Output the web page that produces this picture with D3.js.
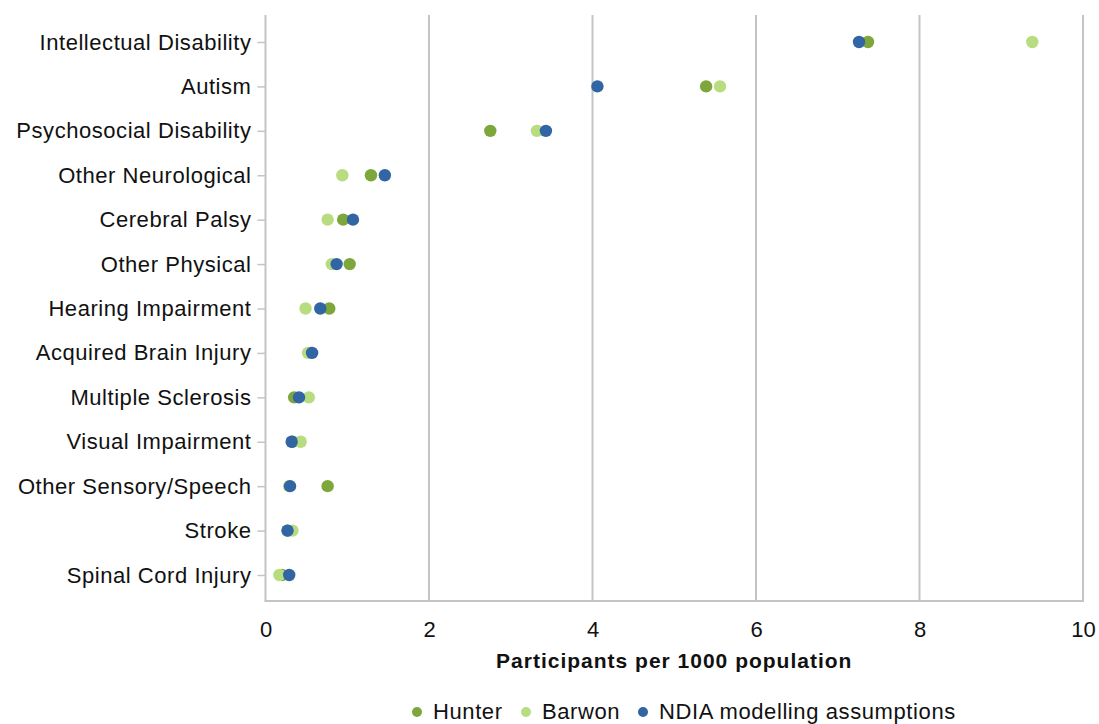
<!DOCTYPE html>
<html><head><meta charset="utf-8">
<script src="https://cdn.jsdelivr.net/npm/d3@7"></script>
<style>body{margin:0;background:#fff}svg{display:block;font-family:"Liberation Sans",Arial,sans-serif}</style>
</head><body>
<svg id="c" width="1099" height="724"></svg>
<script>
const categories = ["Intellectual Disability","Autism","Psychosocial Disability","Other Neurological","Cerebral Palsy","Other Physical","Hearing Impairment","Acquired Brain Injury","Multiple Sclerosis","Visual Impairment","Other Sensory/Speech","Stroke","Spinal Cord Injury"];
const hunter = [7.37,5.39,2.75,1.29,0.95,1.03,0.78,0.55,0.35,0.33,0.76,0.27,0.20];
const barwon = [9.38,5.56,3.32,0.94,0.76,0.81,0.49,0.52,0.53,0.43,0.29,0.33,0.17];
const ndia   = [7.26,4.06,3.43,1.46,1.07,0.87,0.67,0.57,0.41,0.32,0.30,0.27,0.29];
const xTicks = [0,2,4,6,8,10];
const seriesNames = ["Hunter","Barwon","NDIA modelling assumptions"];
const colors = ["#7da73b","#b8dc80","#3265a3"];
const seriesData = [hunter, barwon, ndia];

const svg = d3.select("#c");
const L = 265.5, R = 1083, T = 15, B = 601;
const x = d3.scaleLinear().domain([0,10]).range([L,R]);
const y = d3.scalePoint().domain(categories).range([42,575]);

// gridlines
svg.append("g").selectAll("line").data(xTicks.filter(d=>d>0)).join("line")
  .attr("x1",d=>x(d)).attr("x2",d=>x(d)).attr("y1",T).attr("y2",B)
  .attr("stroke","#c4c4c4").attr("stroke-width",2);
// axes lines
svg.append("line").attr("x1",L).attr("x2",L).attr("y1",T).attr("y2",B).attr("stroke","#c4c4c4").attr("stroke-width",2);
svg.append("line").attr("x1",L-1).attr("x2",R+1).attr("y1",B).attr("y2",B).attr("stroke","#c4c4c4").attr("stroke-width",2);

// y axis
const ya = svg.append("g").attr("transform",`translate(${L},0)`)
  .call(d3.axisLeft(y).tickSize(8).tickPadding(6));
ya.select(".domain").remove();
ya.selectAll(".tick line").attr("stroke","#c4c4c4").attr("stroke-width",1.5);
ya.selectAll(".tick text").attr("font-size",22).attr("letter-spacing",0.55).attr("fill","#111").attr("font-family","Liberation Sans, Arial, sans-serif");

// x axis
const xa = svg.append("g").attr("transform",`translate(0,${B})`)
  .call(d3.axisBottom(x).tickValues(xTicks).tickFormat(d3.format("d")).tickSize(0).tickPadding(20));
xa.select(".domain").remove();
xa.selectAll(".tick text").attr("font-size",22).attr("fill","#111").attr("font-family","Liberation Sans, Arial, sans-serif");

svg.append("text").attr("x",(L+R)/2).attr("y",668).attr("text-anchor","middle")
  .attr("font-size",21).attr("font-weight","bold").attr("letter-spacing",1).attr("fill","#111").text("Participants per 1000 population");

// points
seriesData.forEach((vals,i)=>{
  svg.append("g").selectAll("circle").data(vals).join("circle")
    .attr("cx",d=>x(d)).attr("cy",(d,j)=>y(categories[j])).attr("r",6.2)
    .attr("fill",colors[i]);
});

// legend
const legX = [417,526,643];
const leg = svg.append("g");
seriesNames.forEach((n,i)=>{
  leg.append("circle").attr("cx",legX[i]).attr("cy",712).attr("r",5).attr("fill",colors[i]);
  leg.append("text").attr("x",legX[i]+16).attr("y",719).attr("font-size",22).attr("letter-spacing",0.6).attr("fill","#111").text(n);
});
</script>
</body></html>
